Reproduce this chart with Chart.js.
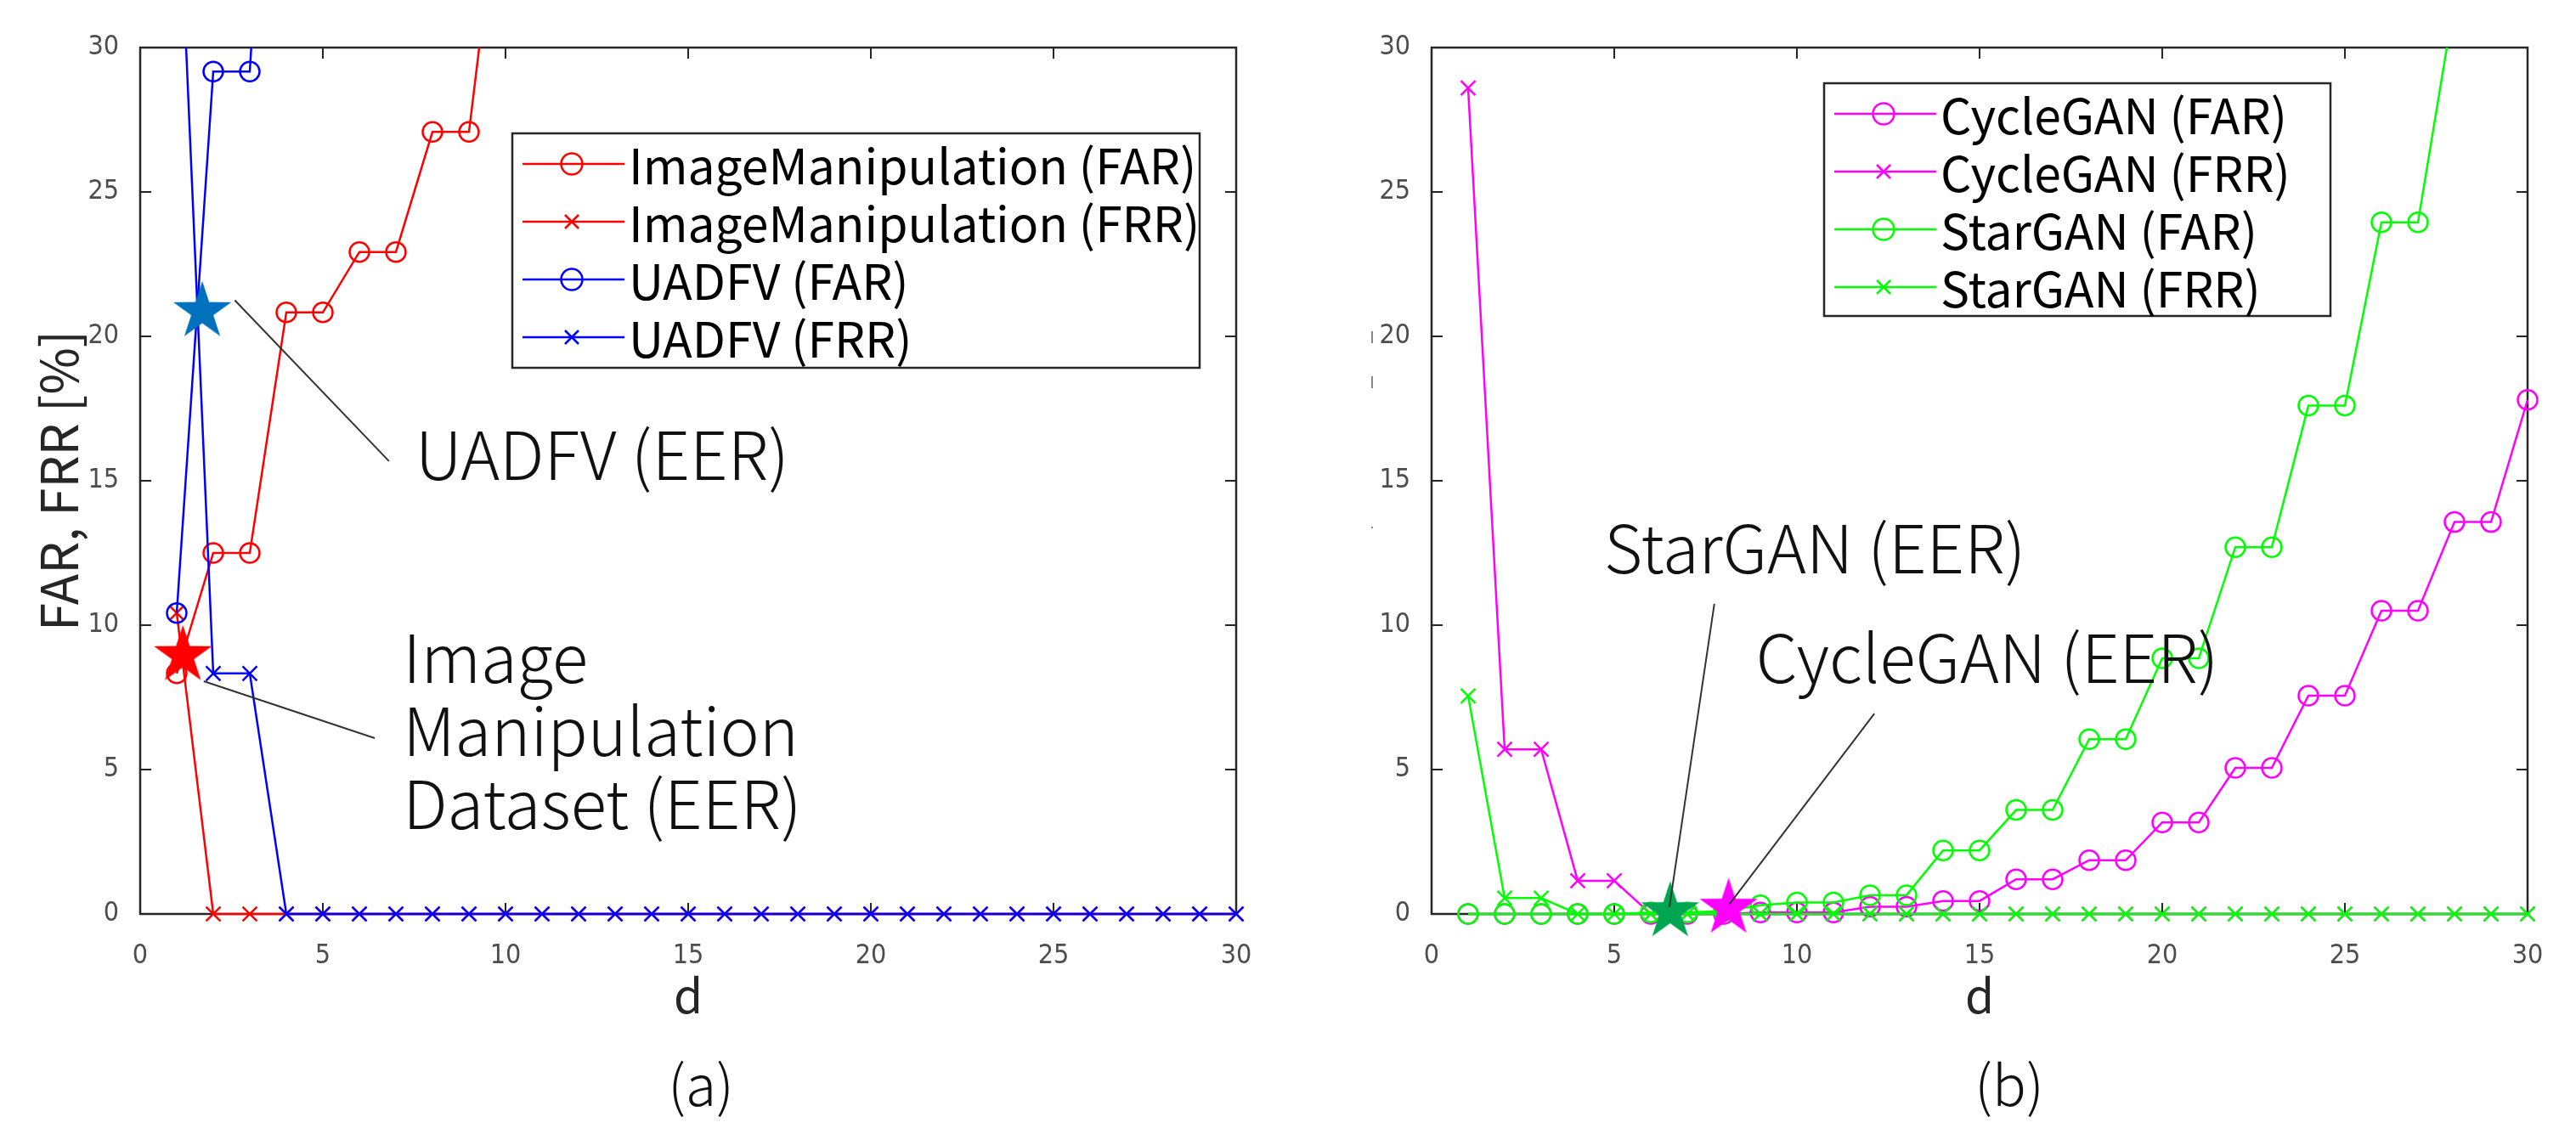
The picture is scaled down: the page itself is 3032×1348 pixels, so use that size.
<!DOCTYPE html>
<html>
<head>
<meta charset="utf-8">
<script src="https://cdn.jsdelivr.net/npm/chart.js@4.4.1/dist/chart.umd.min.js"></script>
<style>
  html, body { margin: 0; padding: 0; background: #fff; overflow: hidden; }
  #wrap { position: relative; width: 3032px; height: 1348px; background: #fff; }
  .panel { position: absolute; top: 0; width: 1516px; height: 1348px; }
</style>
</head>
<body>
<div id="wrap">
  <div class="panel" style="left:0"><canvas id="chartA" width="1516" height="1348"></canvas></div>
  <div class="panel" style="left:1516px"><canvas id="chartB" width="1516" height="1348"></canvas></div>
</div>
<script>
// d values (threshold)
const dVals = [1, 2, 3, 4, 5, 6, 7, 8, 9, 10, 11, 12, 13, 14, 15, 16, 17, 18, 19, 20, 21, 22, 23, 24, 25, 26, 27, 28, 29, 30]
const xTicks = [0, 5, 10, 15, 20, 25, 30]
const yTicks = [0, 5, 10, 15, 20, 25, 30]

// (a) ImageManipulation / UADFV
const labelsA = ['ImageManipulation (FAR)', 'ImageManipulation (FRR)', 'UADFV (FAR)', 'UADFV (FRR)']
const imFar = [8.33, 12.5, 12.5, 20.83, 20.83, 22.92, 22.92, 27.08, 27.08, 37.5]
const imFrr = [10.42, 0, 0, 0, 0, 0, 0, 0, 0, 0, 0, 0, 0, 0, 0, 0, 0, 0, 0, 0, 0, 0, 0, 0, 0, 0, 0, 0, 0, 0]
const uaFar = [10.42, 29.17, 29.17, 50]
const uaFrr = [37.5, 8.33, 8.33, 0, 0, 0, 0, 0, 0, 0, 0, 0, 0, 0, 0, 0, 0, 0, 0, 0, 0, 0, 0, 0, 0, 0, 0, 0, 0, 0]
const eerAx = [1.17, 1.7]
const eerAy = [8.95, 20.86]

// (b) CycleGAN / StarGAN
const labelsB = ['CycleGAN (FAR)', 'CycleGAN (FRR)', 'StarGAN (FAR)', 'StarGAN (FRR)']
const cgFar = [0, 0, 0, 0, 0, 0, 0, 0, 0.05, 0.05, 0.05, 0.25, 0.25, 0.45, 0.45, 1.2, 1.2, 1.86, 1.86, 3.17, 3.17, 5.06, 5.06, 7.56, 7.56, 10.5, 10.5, 13.57, 13.57, 17.8]
const cgFrr = [28.6, 5.7, 5.7, 1.15, 1.15, 0, 0, 0, 0, 0, 0, 0, 0, 0, 0, 0, 0, 0, 0, 0, 0, 0, 0, 0, 0, 0, 0, 0, 0, 0]
const sgFar = [0, 0, 0, 0, 0, 0.05, 0.05, 0.1, 0.3, 0.4, 0.4, 0.65, 0.65, 2.2, 2.2, 3.6, 3.6, 6.05, 6.05, 8.85, 8.85, 12.7, 12.7, 17.6, 17.6, 23.95, 23.95, 31.6, 31.6, 38]
const sgFrr = [7.55, 0.55, 0.55, 0, 0, 0, 0, 0, 0, 0, 0, 0, 0, 0, 0, 0, 0, 0, 0, 0, 0, 0, 0, 0, 0, 0, 0, 0, 0, 0]
const eerBx = [6.53, 8.13]
const eerBy = [0.08, 0.2]

const FONT_JP = '"Noto Sans CJK JP", "Noto Sans", sans-serif'
const FONT_NUM = '"Liberation Sans Narrow", "DejaVu Sans Condensed", "Roboto", sans-serif'

function makeStar(color, r) {
  const c = document.createElement('canvas')
  c.width = c.height = Math.ceil(2 * r + 4)
  const g = c.getContext('2d')
  const cx = c.width / 2, cy = c.height / 2
  g.beginPath()
  for (let i = 0; i < 10; i++) {
    const rr = i % 2 === 0 ? r : r * 0.382
    const a = -Math.PI / 2 + i * Math.PI / 5
    g.lineTo(cx + rr * Math.cos(a), cy + rr * Math.sin(a))
  }
  g.closePath()
  g.fillStyle = color
  g.fill()
  return c
}

function pts(vals) {
  return vals.map((v, i) => ({ x: dVals[i], y: v }))
}

function series(label, vals, color, style, order) {
  return {
    label: label,
    data: pts(vals),
    borderColor: color,
    backgroundColor: color,
    borderWidth: 2.5,
    pointStyle: style,
    pointRadius: style === 'circle' ? 11.5 : 12,
    pointBorderWidth: 2.5,
    pointBackgroundColor: 'rgba(0,0,0,0)',
    pointBorderColor: color,
    tension: 0,
    fill: false,
    order: order,
    clip: { left: 20, right: 20, top: 0, bottom: 20 }
  }
}

function eerSet(x, y, color, order) {
  return {
    label: 'EER',
    data: [{ x: x, y: y }],
    showLine: false,
    pointStyle: makeStar(color, 36),
    pointRadius: 36,
    order: order,
    clip: false
  }
}

// draws frame, inward ticks, legend, titles and EER annotations
function decor(cfg) {
  return {
    id: 'decor',
    beforeDatasetsDraw(chart) {
      const ctx = chart.ctx
      const a = chart.chartArea
      const xs = chart.scales.x, ys = chart.scales.y
      ctx.save()
      ctx.strokeStyle = '#262626'
      ctx.lineWidth = 2
      xTicks.forEach(t => {
        const px = xs.getPixelForValue(t)
        ctx.beginPath()
        ctx.moveTo(px, a.bottom); ctx.lineTo(px, a.bottom - 13)
        ctx.moveTo(px, a.top); ctx.lineTo(px, a.top + 13)
        ctx.stroke()
      })
      yTicks.forEach(t => {
        const py = ys.getPixelForValue(t)
        ctx.beginPath()
        ctx.moveTo(a.left, py); ctx.lineTo(a.left + 13, py)
        ctx.moveTo(a.right, py); ctx.lineTo(a.right - 13, py)
        ctx.stroke()
      })
      ctx.lineWidth = 2.5
      ctx.strokeRect(a.left, a.top, a.right - a.left, a.bottom - a.top)
      ctx.restore()
    },
    afterDatasetsDraw(chart) {
      const ctx = chart.ctx
      const a = chart.chartArea
      const xs = chart.scales.x, ys = chart.scales.y
      ctx.save()

      // annotations
      cfg.notes.forEach(n => {
        ctx.strokeStyle = '#333'
        ctx.lineWidth = 2
        ctx.beginPath()
        ctx.moveTo(xs.getPixelForValue(n.line[0]), ys.getPixelForValue(n.line[1]))
        ctx.lineTo(xs.getPixelForValue(n.line[2]), ys.getPixelForValue(n.line[3]))
        ctx.stroke()
        ctx.fillStyle = '#111'
        ctx.font = '300 78px ' + FONT_JP
        ctx.textAlign = 'left'
        ctx.textBaseline = 'alphabetic'
        const tx = xs.getPixelForValue(n.at[0])
        n.text.forEach((s, i) => {
          ctx.fillText(s, tx, ys.getPixelForValue(n.at[1]) + i * 86)
        })
      })

      // legend
      const b = cfg.legendBox
      ctx.fillStyle = '#fff'
      ctx.fillRect(b[0], b[1], b[2] - b[0], b[3] - b[1])
      ctx.strokeStyle = '#262626'
      ctx.lineWidth = 2.5
      ctx.strokeRect(b[0], b[1], b[2] - b[0], b[3] - b[1])
      cfg.legendRows.forEach((r, i) => {
        const cy = b[1] + 36 + i * 68
        const x0 = b[0] + 12, x1 = b[0] + 132, mx = b[0] + 70
        ctx.strokeStyle = r.color
        ctx.lineWidth = 2.5
        ctx.beginPath(); ctx.moveTo(x0, cy); ctx.lineTo(x1, cy); ctx.stroke()
        ctx.beginPath()
        if (r.style === 'circle') {
          ctx.arc(mx, cy, 12.5, 0, Math.PI * 2)
        } else {
          ctx.moveTo(mx - 8, cy - 8); ctx.lineTo(mx + 8, cy + 8)
          ctx.moveTo(mx + 8, cy - 8); ctx.lineTo(mx - 8, cy + 8)
        }
        ctx.stroke()
        ctx.fillStyle = '#000'
        ctx.font = '57px ' + FONT_JP
        ctx.textAlign = 'left'
        ctx.textBaseline = 'middle'
        ctx.fillText(r.label, b[0] + 137, cy + 2)
      })

      // axis titles
      ctx.fillStyle = '#262626'
      ctx.font = '55px ' + FONT_JP
      ctx.textAlign = 'center'
      ctx.textBaseline = 'alphabetic'
      const cx = (a.left + a.right) / 2
      ctx.fillText('d', cx, 1193)
      ctx.fillStyle = '#111'
      ctx.font = '300 66px ' + FONT_JP
      ctx.textBaseline = 'middle'
      ctx.fillText(cfg.panel, cfg.panelX, 1277)
      if (cfg.yTitle) {
        ctx.save()
        ctx.translate(92, (a.top + a.bottom) / 2)
        ctx.rotate(-Math.PI / 2)
        ctx.fillStyle = '#262626'
        ctx.font = '60px ' + FONT_JP
        ctx.textAlign = 'center'
        ctx.textBaseline = 'alphabetic'
        ctx.fillText(cfg.yTitle, 0, 0)
        ctx.restore()
      }
      if (cfg.specks) {
        ctx.strokeStyle = '#888'
        ctx.lineWidth = 2
        ctx.beginPath()
        ctx.moveTo(99, 390); ctx.lineTo(99, 404)
        ctx.moveTo(99, 443); ctx.lineTo(99, 457)
        ctx.moveTo(99, 620); ctx.lineTo(99, 622)
        ctx.stroke()
      }
      ctx.restore()
    }
  }
}

function options(axisWidth, padRight) {
  return {
    responsive: false,
    animation: false,
    devicePixelRatio: 1,
    layout: { padding: { left: 0, right: padRight, top: 56, bottom: 0 } },
    plugins: { legend: { display: false }, tooltip: { enabled: false } },
    scales: {
      x: {
        type: 'linear', min: 0, max: 30,
        afterBuildTicks: s => { s.ticks = xTicks.map(v => ({ value: v })) },
        afterFit: s => { s.height = 272 },
        grid: { display: false },
        border: { display: false },
        ticks: { color: '#4d4d4d', padding: 22, maxRotation: 0, font: { family: FONT_NUM, size: 32 } }
      },
      y: {
        type: 'linear', min: 0, max: 30,
        afterBuildTicks: s => { s.ticks = yTicks.map(v => ({ value: v })) },
        afterFit: s => { s.width = axisWidth },
        grid: { display: false },
        border: { display: false },
        ticks: { color: '#4d4d4d', padding: 17, font: { family: FONT_NUM, size: 32 } }
      }
    }
  }
}

new Chart(document.getElementById('chartA'), {
  type: 'line',
  data: {
    datasets: [
      series(labelsA[0], imFar, '#ff0000', 'circle', 5),
      series(labelsA[1], imFrr, '#ff0000', 'crossRot', 4),
      series(labelsA[2], uaFar, '#0000ff', 'circle', 3),
      series(labelsA[3], uaFrr, '#0000ff', 'crossRot', 2),
      eerSet(eerAx[0], eerAy[0], '#ff0000', 1),
      eerSet(eerAx[1], eerAy[1], '#0072bd', 0)
    ]
  },
  options: options(165, 61),
  plugins: [decor({
    legendBox: [603, 157, 1412, 433],
    legendRows: [
      { label: labelsA[0], color: '#ff0000', style: 'circle' },
      { label: labelsA[1], color: '#ff0000', style: 'cross' },
      { label: labelsA[2], color: '#0000ff', style: 'circle' },
      { label: labelsA[3], color: '#0000ff', style: 'cross' }
    ],
    notes: [
      { line: [2.59, 21.25, 6.81, 15.68], at: [7.53, 15.03], text: ['UADFV (EER)'] },
      { line: [1.74, 8.06, 6.42, 6.09], at: [7.19, 8.0], text: ['Image', 'Manipulation', 'Dataset (EER)'] }
    ],
    panel: '(a)', panelX: 825,
    yTitle: 'FAR, FRR [%]'
  })]
})

new Chart(document.getElementById('chartB'), {
  type: 'line',
  data: {
    datasets: [
      series(labelsB[0], cgFar, '#ff00ff', 'circle', 5),
      series(labelsB[1], cgFrr, '#ff00ff', 'crossRot', 4),
      series(labelsB[2], sgFar, '#00ff00', 'circle', 3),
      series(labelsB[3], sgFrr, '#00ff00', 'crossRot', 2),
      eerSet(eerBx[0], eerBy[0], '#00a651', 1),
      eerSet(eerBx[1], eerBy[1], '#ff00ff', 0)
    ]
  },
  options: options(169, 57),
  plugins: [decor({
    legendBox: [631, 98, 1227, 372],
    legendRows: [
      { label: labelsB[0], color: '#ff00ff', style: 'circle' },
      { label: labelsB[1], color: '#ff00ff', style: 'cross' },
      { label: labelsB[2], color: '#00ff00', style: 'circle' },
      { label: labelsB[3], color: '#00ff00', style: 'cross' }
    ],
    notes: [
      { line: [7.74, 10.74, 6.51, 0.24], at: [4.72, 11.8], text: ['StarGAN (EER)'] },
      { line: [12.12, 6.94, 8.16, 0.35], at: [8.88, 8.0], text: ['CycleGAN (EER)'] }
    ],
    panel: '(b)', panelX: 2365 - 1516,
    specks: true
  })]
})
</script>
</body>
</html>
